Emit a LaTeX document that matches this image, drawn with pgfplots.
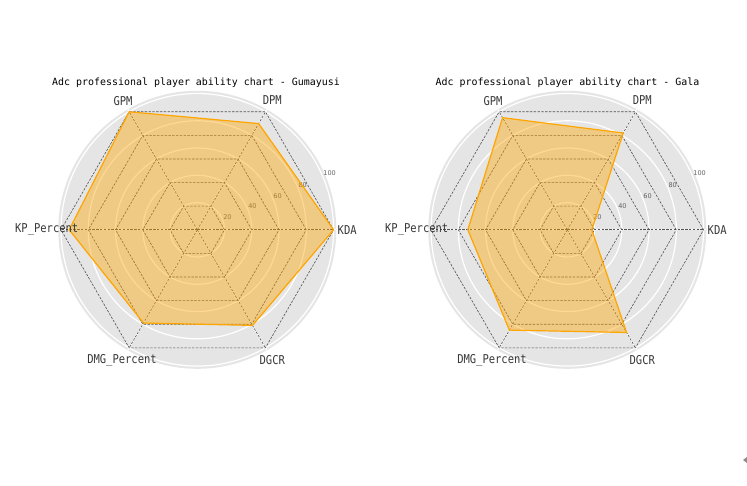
\documentclass[border=0pt]{standalone}
\usepackage{pgfplots}
\pgfplotsset{compat=1.18}
\usepackage{pgfplotstable}
\usepgfplotslibrary{polar}
\usetikzlibrary{calc}
\usepackage{fontspec}
\setmainfont{DejaVu Sans}
\newfontfamily\monofont{DejaVu Sans Mono}
\newfontfamily\labfont[FakeStretch=0.86]{DejaVu Sans Mono}
\definecolor{bggray}{RGB}{229,229,229}
\definecolor{mplorange}{RGB}{255,165,0}

\pgfplotstableread{
angle value
0 100
60 90
120 100
180 94
240 79
300 81
360 100
}\gumayusi

\pgfplotstableread{
angle value
0 18
60 82
120 95
180 73
240 85
300 87
360 18
}\gala

\tikzset{
  hexa/.style={draw=black!68, line width=0.6bp, dash pattern=on 2.4bp off 1.4bp},
  rlab/.style={font=\fontsize{6.5bp}{6.5bp}\selectfont, text=black!62},
  catlab/.style={font=\labfont\fontsize{12.2bp}{12.2bp}\selectfont, text=black!78, inner sep=0pt, anchor=center},
}
\pgfplotsset{
  radar/.style={
    scale only axis, width=278bp, height=278bp,
    ymin=0, ymax=102, xmin=0, xmax=360,
    xtick={0,60,120,180,240,300},
    xticklabels={},
    ytick=\empty,
    axis line style={draw=none},
    major tick length=0pt,
    clip=false,
    no markers,
    anchor=center,
  },
}

\newcommand{\radarbase}{%
  \fill[bggray] let \p1=($(axis cs:0,102)-(axis cs:0,0)$) in (axis cs:0,0) circle[radius=\x1];
  \pgfplotsinvokeforeach{20,40,60,80,100}{%
    \draw[white, line width=1.2bp] let \p1=($(axis cs:0,##1)-(axis cs:0,0)$) in (axis cs:0,0) circle[radius=\x1];
  }
  \pgfplotsinvokeforeach{0,60,120,180,240,300}{%
    \draw[white, line width=1.2bp] (axis cs:0,0) -- (axis cs:##1,102);
  }
  \pgfplotsinvokeforeach{20,40,60,80,100}{%
    \addplot[hexa] coordinates {(0,##1) (60,##1) (120,##1) (180,##1) (240,##1) (300,##1) (360,##1)};
  }
  \pgfplotsinvokeforeach{0,60,120,180,240,300}{%
    \addplot[hexa] coordinates {(##1,0) (##1,100)};
  }
  \node[rlab] at (axis cs:23,24) {20};
  \node[rlab] at (axis cs:23,44) {40};
  \node[rlab] at (axis cs:23,64) {60};
  \node[rlab] at (axis cs:23,84) {80};
  \node[rlab] at (axis cs:23,105.5) {100};
}
\newcommand{\radarlabels}{%
  \node[catlab] at (axis cs:0,110) {KDA};
  \node[catlab] at (axis cs:60,110) {DPM};
  \node[catlab] at (axis cs:120,109) {GPM};
  \node[catlab] at (axis cs:180,110.5) {KP\_Percent};
  \node[catlab] at (axis cs:240,110.5) {DMG\_Percent};
  \node[catlab] at (axis cs:300,110) {DGCR};
}

\begin{document}
\begin{tikzpicture}
\fill[white] (0,0) rectangle (747bp,486bp);

\begin{polaraxis}[radar, at={(197.3bp,256.2bp)}]
  \radarbase
  \addplot[draw=mplorange, line width=1.2bp, fill=mplorange, fill opacity=0.42] table[x=angle,y=value] {\gumayusi};
  \radarlabels
\end{polaraxis}

\begin{polaraxis}[radar, at={(567.3bp,256.2bp)}]
  \radarbase
  \addplot[draw=mplorange, line width=1.2bp, fill=mplorange, fill opacity=0.42] table[x=angle,y=value] {\gala};
  \radarlabels
\end{polaraxis}

\node[font=\monofont\fontsize{9.95bp}{10bp}\selectfont] at (196bp,402.8bp) {Adc professional player ability chart - Gumayusi};
\node[font=\monofont\fontsize{9.95bp}{10bp}\selectfont] at (567.5bp,402.8bp) {Adc professional player ability chart - Gala};

\fill[black!45] (743bp,26bp) -- (747bp,29bp) -- (747bp,23bp) -- cycle;
\end{tikzpicture}
\end{document}
